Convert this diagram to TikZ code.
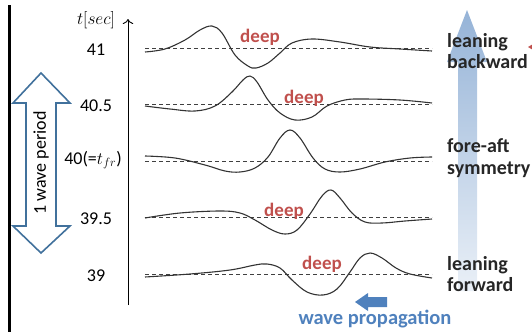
\documentclass[tikz,border=0pt]{standalone}
\usepackage{amsmath, amssymb}
\usepackage{fontspec}
\setmainfont{Carlito}
\usepackage{tikz}
\usetikzlibrary{calc, arrows.meta}
\definecolor{deepred}{HTML}{C0504D}
\definecolor{propblue}{HTML}{4F81BD}
\definecolor{outlineblue}{HTML}{41719C}
\tikzset{
  wave/.style={line width=1.1pt, draw=black!80, smooth, tension=0.6},
  base/.style={dashed, dash pattern=on 4pt off 3pt, line width=0.6pt, black!75},
  tlab/.style={font=\fontsize{18}{22}\selectfont, anchor=center},
  deeplab/.style={font=\fontsize{19}{22}\selectfont\bfseries, text=deepred, inner sep=0pt},
  phase/.style={font=\fontsize{20}{21.5}\selectfont\bfseries, text=black!85, align=left, anchor=west, inner sep=0pt}
}

\begin{document}
\begin{tikzpicture}[x=1pt, y=-1pt]
                \useasboundingbox (0,0) rectangle (532,332);
                \draw[line width=3pt] (9,5) -- (9,332);
                \coordinate (T0) at (128,305); \coordinate (T1) at (128,19);
                \draw[line width=0.9pt, -{To[length=5pt]}] (T0) -- (T1);
                \node (tunit) at (96,20) {\fontsize{18}{22}\selectfont$t[sec]$};
                % time labels and dashed baselines
                \foreach \t/\y/\n in {41/48/ta, 40.5/104/tb, 39.5/217/td, 39/274/te}{
                  \node[tlab] (\n) at (96,\y+2) {\t};
                  \draw[base] (145,\y) -- (432,\y);
                }
                \node[tlab] (tc) at (93,160) {40(=$t_{fr}$)};
                \draw[base] (145,161) -- (432,161);
                % wave profiles
                \draw[wave] plot coordinates {(145,52) (165,49) (185,40) (200,30) (212,26) (222,33) (235,55) (248,66) (256,68) (268,63) (280,53) (292,43) (312,39) (340,42) (370,47) (400,49) (432,51)};
                \draw[wave] plot coordinates {(145,106) (170,109) (195,111) (215,106) (232,92) (243,80) (250,76) (257,82) (268,100) (280,113) (295,120) (312,117) (327,106) (345,100) (362,99) (400,100) (432,103)};
                \draw[wave] plot coordinates {(145,156) (175,158) (205,165) (225,171) (240,172) (255,168) (268,157) (280,138) (290,130) (300,138) (313,158) (325,169) (340,172) (360,169) (385,162) (410,158) (432,157)};
                \draw[wave] plot coordinates {(145,218) (180,213) (220,211) (240,213) (255,220) (272,230) (285,234) (297,230) (310,214) (322,196) (331,190) (340,198) (352,213) (365,222) (382,223) (405,221) (432,219)};
                \draw[wave] plot coordinates {(145,277) (190,274) (230,270) (255,265) (267,264) (280,268) (292,280) (307,292) (323,295) (337,289) (350,272) (360,258) (370,253) (382,258) (396,268) (410,274) (432,278)};
                \node[deeplab] (d1) at (260,37) {deep};
                \node[deeplab] (d2) at (304,98) {deep};
                \node[deeplab] (d4) at (284,211) {deep};
                \node[deeplab] (d5) at (322,264) {deep};
                % one wave period
                \draw[outlineblue, line width=1.6pt, fill=white, line join=miter]
                  (41,73) -- (70,103) -- (56,103) -- (56,226) -- (70,226) -- (41,253)
                  -- (13,226) -- (26,226) -- (26,103) -- (13,103) -- cycle;
                \node[rotate=90, font=\fontsize{18}{22}\selectfont] (period) at (41,163) {1 wave period};
                % shading arrow
                \shade[top color=propblue!60, bottom color=propblue!12]
                  (467,10) -- (487,62) -- (477,62) -- (477,291) -- (458,291) -- (458,62) -- (447,62) -- cycle;
                \node[phase] (back) at (447,51) {leaning\\backward};
                \node[phase] (sym) at (447,158) {fore-aft\\symmetry};
                \node[phase] (fwd) at (447,274) {leaning\\forward};
                \fill[deepred] (528,47) -- (533,44) -- (533,50) -- cycle;
                % propagation
                \fill[propblue] (355,302) -- (368,293) -- (368,297) -- (387,297) -- (387,307) -- (368,307) -- (368,311) -- cycle;
                \node[font=\fontsize{20.5}{22}\selectfont\bfseries, text=propblue] (prop) at (375,319) {wave propagation};
            \end{tikzpicture}
\end{document}
